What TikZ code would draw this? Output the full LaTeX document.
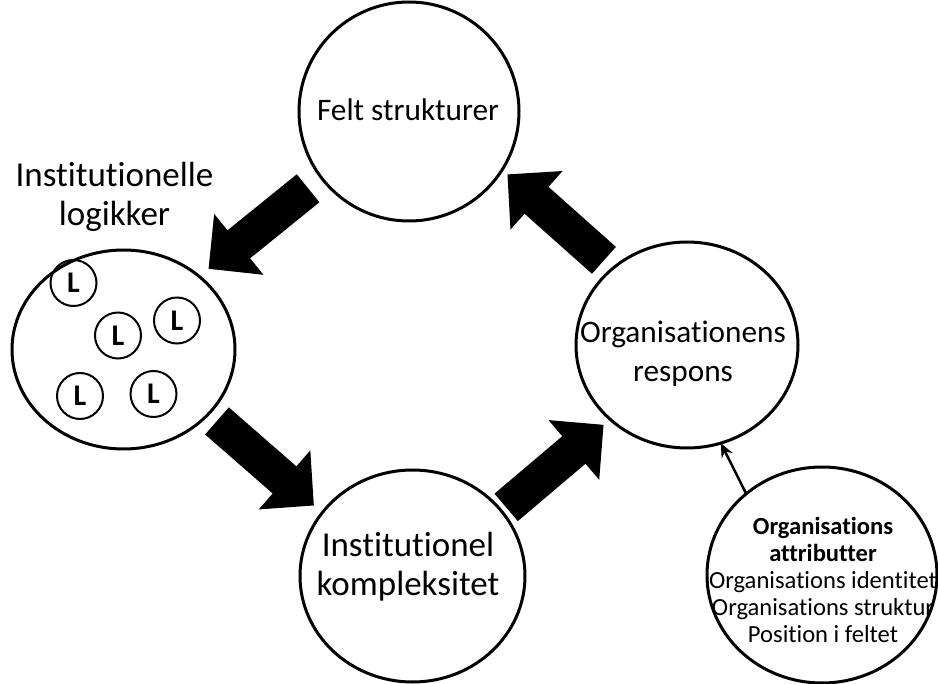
\documentclass[tikz,border=0pt]{standalone}
\usepackage{fontspec}
\setmainfont{Carlito}[Ligatures=NoCommon]
\usetikzlibrary{arrows.meta,shapes.geometric}

\tikzset{
	ring/.style={draw, ellipse, line width=3pt, inner sep=0pt, outer sep=0pt},
	lring/.style={draw, circle, line width=2pt, minimum size=46pt, inner sep=0pt, outer sep=0pt, font=\fontsize{30}{32}\selectfont\bfseries},
	bigtext/.style={inner sep=0pt, align=center, font=\fontsize{35}{39}\selectfont},
	midtext/.style={inner sep=0pt, align=center, font=\fontsize{31.3}{38.5}\selectfont},
	smalltext/.style={inner sep=0pt, align=center, font=\fontsize{24.6}{27}\selectfont},
	fatarrow/.style={line width=36pt, -{Triangle[width=76pt,length=39pt]}},
	thinarrow/.style={line width=2.5pt, -{Stealth[length=14pt,width=12pt]}},
}

\begin{document}
\begin{tikzpicture}[x=1pt,y=1pt,yscale=-1,xscale=1]
		\useasboundingbox (0,0) rectangle (938,684);

		% The five rings
		\node[ring, minimum width=220pt, minimum height=219pt] (felt) at (409,111.5) {};
		\node[ring, minimum width=223pt, minimum height=199pt] (logik) at (123.5,349.5) {};
		\node[ring, minimum width=225pt, minimum height=212pt] (kompl) at (412.5,576) {};
		\node[ring, minimum width=222pt, minimum height=206pt] (respons) at (687,345) {};
		\node[ring, minimum width=230pt, minimum height=216pt] (attr) at (822,575) {};

		% The texts in (and above) the rings
		\node[midtext] (feltlbl) at (408,110) {Felt strukturer};
		\node[bigtext] (logiklbl) at (114.5,197) {Institutionelle\\logikker};
		\node[bigtext] (kompllbl) at (408,567) {Institutionel\\kompleksitet};
		\node[midtext] (responslbl) at (683,354) {Organisationens\\respons};
		\node[smalltext] (attrlbl) at (823,580) {\textbf{Organisations}\\\textbf{attributter}\\Organisations identitet\\Organisations struktur\\Position i feltet};

		% The small logic rings inside the left ring
		\node[lring] (l1) at (73.5,283) {L};
		\node[lring] (l2) at (118,335.5) {L};
		\node[lring] (l3) at (177,320.5) {L};
		\node[lring] (l4) at (80,396) {L};
		\node[lring] (l5) at (153.5,394) {L};

		% The four fat arrows of the cycle
		\draw[fatarrow, shorten <=17pt, shorten >=12pt] (felt.217) -- (logik.44.7);
		\draw[fatarrow, shorten <=11pt, shorten >=11pt] (logik.323.3) -- (kompl.145.3);
		\draw[fatarrow, shorten <=6pt, shorten >=8.5pt] (kompl.36.8) -- (respons.224.6);
		\draw[fatarrow, shorten <=12pt, shorten >=7pt] (respons.134.5) -- (felt.328);

		% The thin arrow from the attributes
		\draw[thinarrow] (attr.133.5) -- (respons.289);
	\end{tikzpicture}
\end{document}
